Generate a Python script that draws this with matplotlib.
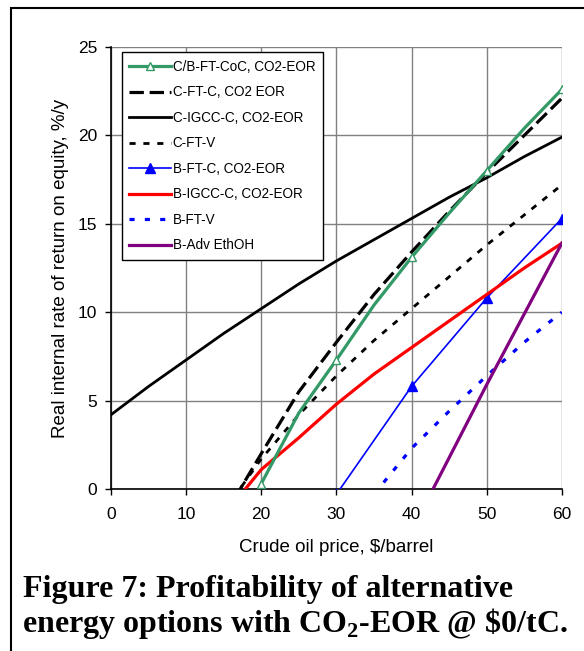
"""
Profitability of alternative energy options with CO2-EOR @ $0/tC.
"""
import matplotlib
matplotlib.use('Agg')
import matplotlib.pyplot as plt
from matplotlib.patches import Rectangle

plt.rcParams['font.family'] = ['Liberation Sans', 'DejaVu Sans']
plt.rcParams['mathtext.fontset'] = 'custom'
plt.rcParams['mathtext.bf'] = 'Liberation Serif:bold'
plt.rcParams['mathtext.rm'] = 'Liberation Serif:bold'

# data (x = crude oil price $/bbl, y = IRR %/y)
cb_ft_coc_x = [19.5, 20, 25, 30, 35, 40, 45, 50, 55, 60]
cb_ft_coc_y = [-0.4, 0.3, 4.3, 7.3, 10.4, 13.1, 15.6, 18.0, 20.4, 22.6]
cb_ft_coc_mk = [1, 3, 5, 7, 9]          # indices with markers (20, 30, ... 60)

c_ft_c_x = [16.5, 20, 25, 30, 35, 40, 45, 50, 55, 60]
c_ft_c_y = [-0.5, 2.0, 5.5, 8.3, 11.0, 13.4, 15.7, 17.9, 20.0, 22.1]

c_igcc_x = [0, 5, 10, 15, 20, 25, 30, 35, 40, 45, 50, 55, 60]
c_igcc_y = [4.2, 5.8, 7.3, 8.8, 10.2, 11.6, 12.9, 14.1, 15.3, 16.5, 17.6, 18.8, 19.9]

c_ft_v_x = [16.3, 20, 25, 30, 35, 40, 45, 50, 55, 60]
c_ft_v_y = [-0.5, 1.7, 4.2, 6.4, 8.4, 10.2, 12.0, 13.8, 15.5, 17.2]

b_ft_c_x = [30, 40, 50, 60]
b_ft_c_y = [-0.3, 5.8, 10.8, 15.3]

b_igcc_x = [17.3, 20, 25, 30, 35, 40, 45, 50, 55, 60]
b_igcc_y = [-0.3, 1.1, 2.9, 4.8, 6.5, 8.0, 9.5, 11.0, 12.5, 13.9]

b_ft_v_x = [35, 40, 45, 50, 55, 60]
b_ft_v_y = [-0.3, 2.3, 4.4, 6.4, 8.3, 10.0]

b_etoh_x = [42.5, 50, 55, 60]
b_etoh_y = [-0.3, 5.9, 9.9, 13.9]

fig = plt.figure(figsize=(5.84, 6.51), dpi=100)
ax = fig.add_axes([0.190, 0.2488, 0.772, 0.679])

green = '#339966'
ax.plot(cb_ft_coc_x, cb_ft_coc_y, color=green, lw=2.3, marker='^', ms=6,
        mfc='white', mec=green, markevery=cb_ft_coc_mk, label='C/B-FT-CoC, CO2-EOR', zorder=5)
ax.plot(c_ft_c_x, c_ft_c_y, color='black', lw=2.3, dashes=(4.5, 1.8),
        label='C-FT-C, CO2 EOR', zorder=4)
ax.plot(c_igcc_x, c_igcc_y, color='black', lw=2.0, label='C-IGCC-C, CO2-EOR', zorder=4)
ax.plot(c_ft_v_x, c_ft_v_y, color='black', lw=2.0, dashes=(2.2, 2.8),
        label='C-FT-V', zorder=4)
ax.plot(b_ft_c_x, b_ft_c_y, color='blue', lw=1.2, marker='^', ms=7,
        label='B-FT-C, CO2-EOR', zorder=4)
ax.plot(b_igcc_x, b_igcc_y, color='red', lw=2.3, label='B-IGCC-C, CO2-EOR', zorder=4)
ax.plot(b_ft_v_x, b_ft_v_y, color='blue', lw=2.3, dashes=(1.6, 3.2),
        label='B-FT-V', zorder=4)
ax.plot(b_etoh_x, b_etoh_y, color='purple', lw=2.3, label='B-Adv EthOH', zorder=4)

ax.set_xlim(0, 60)
ax.set_ylim(0, 25)
ax.set_xticks(range(0, 61, 10))
ax.set_yticks(range(0, 26, 5))
ax.grid(True, color='#808080', lw=1.0)
ax.set_axisbelow(True)
for s in ['top', 'right']:
    ax.spines[s].set_visible(False)
for s in ['left', 'bottom']:
    ax.spines[s].set_linewidth(1.2)
ax.tick_params(labelsize=12.5, length=4, width=1, direction='out')
ax.tick_params(axis='x', pad=9)
ax.tick_params(axis='y', pad=6)

ax.set_xlabel('Crude oil price, $/barrel', fontsize=13.5, labelpad=12)
ax.set_ylabel('Real internal rate of return on equity, %/y', fontsize=13.5, labelpad=6)

leg = ax.legend(loc='upper left', bbox_to_anchor=(0.024, 0.988), fontsize=9.75,
                frameon=True, fancybox=False, edgecolor='black', framealpha=1,
                handlelength=3.1, handletextpad=0.1, labelspacing=0.85,
                borderpad=0.55, borderaxespad=0)
leg.get_frame().set_linewidth(1.0)

fig.text(0.040, 0.083, 'Figure 7: Profitability of alternative',
         family='Liberation Serif', weight='bold', fontsize=23, va='baseline')
fig.text(0.038, 0.029, r'energy options with CO$_{\mathbf{2}}$-EOR @ \$0/tC.',
         family='Liberation Serif', weight='bold', fontsize=23, va='baseline')

# outer frame (only top and left edges fall inside the picture)
fig.patches.append(Rectangle((0.018, -0.2), 1.2, 1.188, transform=fig.transFigure,
                             fill=False, edgecolor='black', lw=1.5))

fig.savefig('out.png', dpi=100)
